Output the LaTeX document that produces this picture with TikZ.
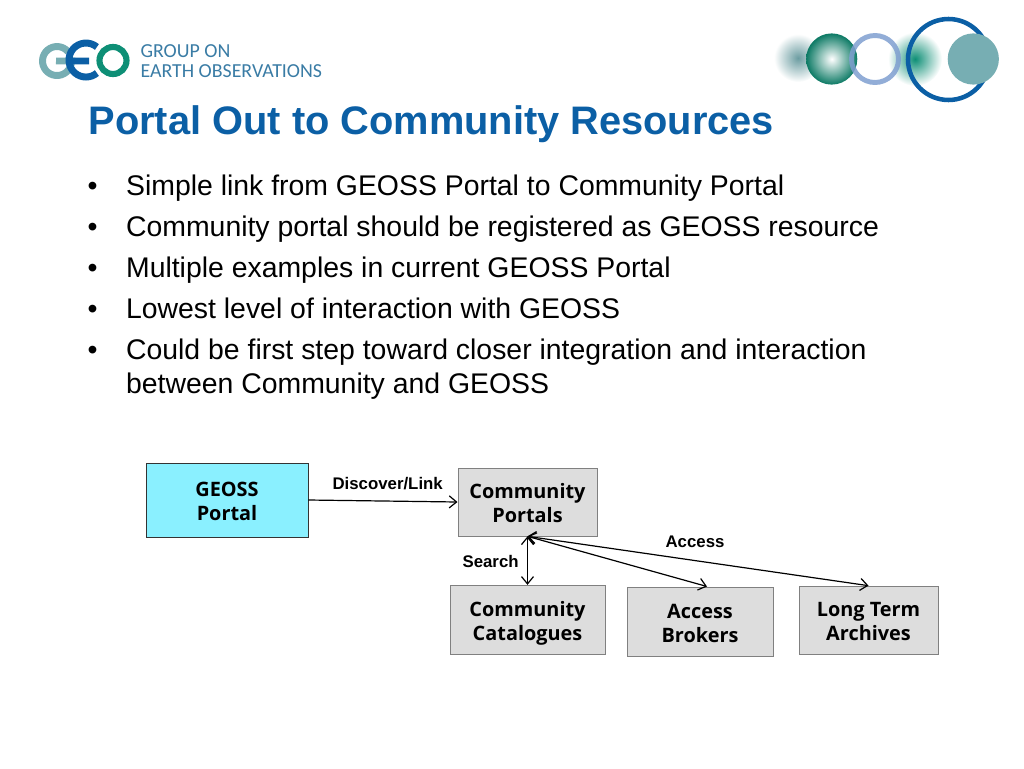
\documentclass[tikz,border=0pt]{standalone}
\usepackage{fontspec}
\setmainfont{Liberation Sans}
\newfontfamily\boxfont{Open Sans}
\newfontfamily\logofont{Carlito}
\usetikzlibrary{arrows.meta}
\definecolor{geoblue}{HTML}{0B5FA5}
\definecolor{geogreen}{HTML}{0E8F76}
\definecolor{geogrey}{HTML}{77AEB3}
\definecolor{geotext}{HTML}{3A7CA5}
\definecolor{ringblue}{HTML}{7F9FD0}
\definecolor{boxgrey}{HTML}{DDDDDD}
\definecolor{boxcyan}{HTML}{8AF0FF}
\tikzset{
  item/.style={anchor=base west,inner sep=0pt,font=\fontsize{21.3}{21.3}\selectfont},
  tag/.style={anchor=base west,inner sep=0pt,font=\fontsize{12.6}{12.6}\selectfont\bfseries},
  logotext/.style={anchor=base west,inner sep=0pt,text=geotext,font=\logofont\fontsize{14.9}{14.9}\selectfont},
  res/.style={draw=black!50,line width=0.5pt,fill=boxgrey,inner sep=0pt,align=center,
    font=\boxfont\fontsize{14.9}{18}\selectfont\bfseries,
    text height=31.5pt,text depth=0.7pt},
  portal/.style={res,draw=black!80,fill=boxcyan,
    minimum width=121.5pt,minimum height=55.5pt},
}
\begin{document}
\begin{tikzpicture}[x=0.75pt,y=-0.75pt,>={Straight Barb[length=5.5pt,width=9pt]},line width=0.9pt]
  \useasboundingbox (0,0) rectangle (1024,768);
  % logo left
  \draw[geogrey,line width=5.2pt] (68.1,51.7) arc (-40:-360:14.5) -- (56,61);
  \draw[geoblue,line width=5.2pt] (96.9,47) arc (-50:-310:17) (71,61) -- (89,61);
  \draw[geogreen,line width=4.6pt] (113,60.5) circle (13.5);
  \node[logotext] (geoone) at (140,57) {GROUP ON};
  \node[logotext] (geotwo) at (140,77) {EARTH OBSERVATIONS};
  % logo right
  \shade[inner color=geogrey!90!black,outer color=white] (798,58) circle (24);
  \shade[inner color=geogreen,outer color=white] (915,59) circle (27);
  \shade[inner color=white,outer color=geogreen!85!black] (831.7,59) circle (25.6);
  \draw[ringblue,line width=3.7pt,opacity=0.85] (875,59) circle (23.5);
  \draw[geoblue,line width=3.4pt] (948.5,59.5) circle (40.5);
  \fill[geogrey] (973.3,59) circle (25.6);
  % title and bullets
  \node[anchor=base west,inner sep=0pt,text=geoblue,font=\fontsize{29.85}{29.85}\selectfont\bfseries] (title) at (88,134.5) {Portal Out to Community Resources};
  \node[item] (b1) at (87,195) {•};
  \node[item] (t1) at (125.5,195) {Simple link from GEOSS Portal to Community Portal};
  \node[item] (b2) at (87,236) {•};
  \node[item] (t2) at (125.5,236) {Community portal should be registered as GEOSS resource};
  \node[item] (b3) at (87,277) {•};
  \node[item] (t3) at (125.5,277) {Multiple examples in current GEOSS Portal};
  \node[item] (b4) at (87,318) {•};
  \node[item] (t4) at (125.5,318) {Lowest level of interaction with GEOSS};
  \node[item] (b5) at (87,359) {•};
  \node[item] (t5) at (125.5,359) {Could be first step toward closer integration and interaction};
  \node[item] (t6) at (125.5,393) {between Community and GEOSS};
  % boxes
  \node[portal] (geoss) at (227,500) {GEOSS\\Portal};
  \node[res,minimum width=104.5pt,minimum height=51pt] (portals) at (527.5,502) {Community\\Portals};
  \node[res,minimum width=116pt,minimum height=51.5pt] (catalogues) at (527.5,619.5) {Community\\Catalogues};
  \node[res,minimum width=109.5pt,minimum height=51.5pt] (brokers) at (700,621.5) {Access\\Brokers};
  \node[res,minimum width=104.5pt,minimum height=51pt] (archives) at (868.5,620) {Long Term\\Archives};
  \coordinate (brokerstop) at (707,586.5);
  % arrows
  \draw[->] (geoss.east) -- (portals.west);
  \draw[<->] (portals.south) -- (catalogues.north);
  \draw[<->] (portals.south) -- (brokerstop);
  \draw[<->] (portals.south) -- (archives.north);
  % labels
  \node[tag] (discover) at (332,489.5) {Discover/Link};
  \node[tag] (search) at (462,567) {Search};
  \node[tag] (access) at (665,547) {Access};
\end{tikzpicture}
\end{document}
